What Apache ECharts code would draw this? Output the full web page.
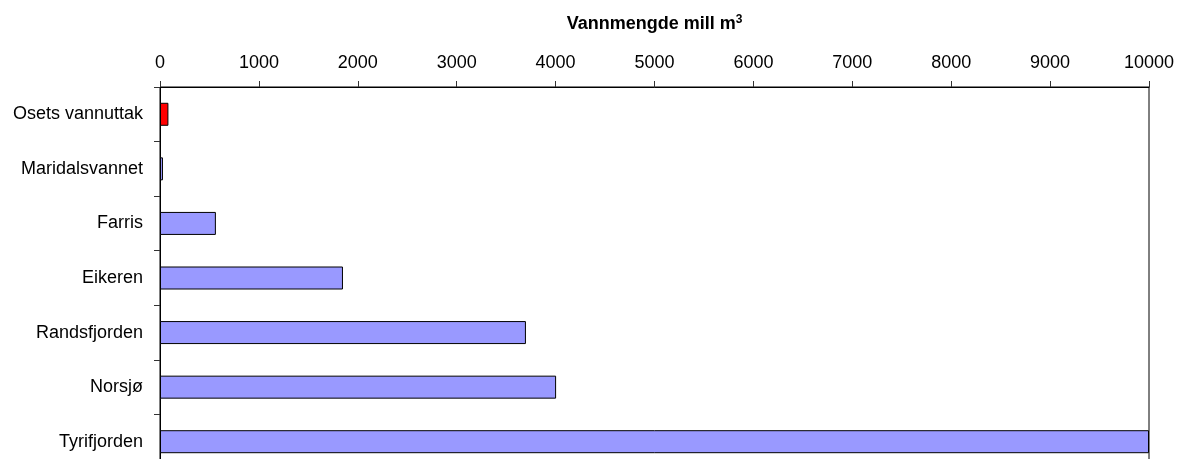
<!DOCTYPE html>
<html>
<head>
<meta charset="utf-8">
<script src="https://cdn.jsdelivr.net/npm/echarts@6/dist/echarts.min.js"></script>
<style>
html, body { margin: 0; padding: 0; background: #fff; }
#chart { width: 1179px; height: 459px; }
</style>
</head>
<body>
<div id="chart"></div>
<script>
// innsjøer, ovenfra og ned
var lakes = ['Osets vannuttak', 'Maridalsvannet', 'Farris', 'Eikeren', 'Randsfjorden', 'Norsjø', 'Tyrifjorden'];
// vannmengde mill m3
var volumes = [85, 30, 565, 1850, 3700, 4005, 10000];
var barColors = ['#FF0000', '#9999FF', '#9999FF', '#9999FF', '#9999FF', '#9999FF', '#9999FF'];

var _chart = echarts.init(document.getElementById('chart'));
_chart.setOption({
    animation: false,
    textStyle: { fontFamily: 'Liberation Sans, Arial, sans-serif' },
    grid: {
        left: 160,
        right: 30,
        top: 87,
        bottom: -10,
        outerBoundsMode: 'none',
        show: true,
        borderColor: '#000',
        borderWidth: 1
    },
    xAxis: {
        type: 'value',
        position: 'top',
        min: 0,
        max: 10000,
        interval: 1000,
        // m med hevet 3
        name: '{b|Vannmengde mill m}{s|3}',
        nameLocation: 'middle',
        nameGap: 53,
        nameTextStyle: {
            rich: {
                b: { fontSize: 18, fontWeight: 'bold', color: '#000' },
                s: { fontSize: 12, fontWeight: 'bold', color: '#000', padding: [0, 0, 8, 0] }
            }
        },
        axisLine: { show: true, lineStyle: { color: '#000' } },
        axisTick: { show: true, length: 6, lineStyle: { color: '#333' } },
        axisLabel: {
            fontSize: 18,
            color: '#000',
            margin: 15,
            formatter: function (v) { return String(v); }
        },
        splitLine: { show: false }
    },
    yAxis: {
        type: 'category',
        inverse: true,
        data: lakes,
        axisLine: { show: true, lineStyle: { color: '#000' } },
        axisTick: { show: true, length: 6, lineStyle: { color: '#333' } },
        axisLabel: { fontSize: 18, color: '#000', margin: 17 }
    },
    series: [
        {
            type: 'bar',
            barWidth: 23,
            data: volumes.map(function (v, i) {
                return { value: v, itemStyle: { color: barColors[i] } };
            }),
            itemStyle: { borderColor: '#000', borderWidth: 1 }
        }
    ]
});
</script>
</body>
</html>
